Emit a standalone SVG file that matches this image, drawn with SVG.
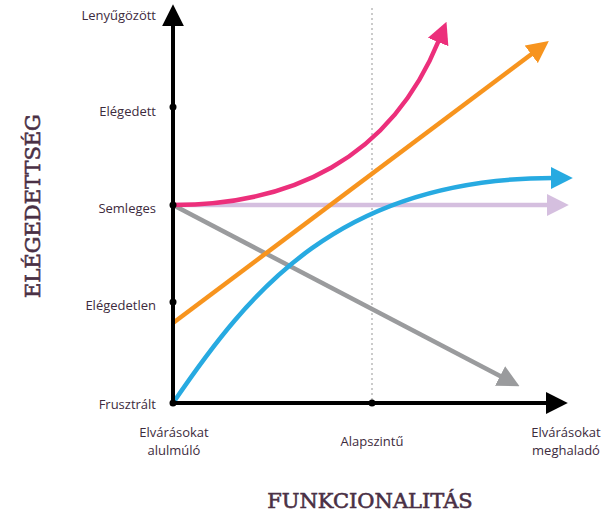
<svg xmlns="http://www.w3.org/2000/svg" width="605" height="515" viewBox="0 0 605 515">
<style>
.lbl{font-family:"Open Sans","Liberation Sans",sans-serif;font-size:13px;fill:#3d2b3d}
.ttl{font-family:"DejaVu Serif","Liberation Serif",serif;font-size:21px;fill:#4a3045;font-weight:normal;stroke:#4a3045;stroke-width:0.6}
.ax{stroke:#000;stroke-width:4;fill:none}
.cv{stroke-width:4.5;fill:none;stroke-linecap:butt}
</style>
<defs>
<marker id="mk" viewBox="0 0 10 10" refX="1" refY="5" markerWidth="22" markerHeight="22" markerUnits="userSpaceOnUse" orient="auto"><path d="M0,0 L10,5 L0,10 z" fill="#000"/></marker>
<marker id="mPink" viewBox="0 0 10 10" refX="1" refY="5" markerWidth="22" markerHeight="22" markerUnits="userSpaceOnUse" orient="auto"><path d="M0,0 L10,5 L0,10 z" fill="#ec2f7b"/></marker>
<marker id="mOr" viewBox="0 0 10 10" refX="1" refY="5" markerWidth="22" markerHeight="22" markerUnits="userSpaceOnUse" orient="auto"><path d="M0,0 L10,5 L0,10 z" fill="#f7941e"/></marker>
<marker id="mBl" viewBox="0 0 10 10" refX="1" refY="5" markerWidth="22" markerHeight="22" markerUnits="userSpaceOnUse" orient="auto"><path d="M0,0 L10,5 L0,10 z" fill="#27aae1"/></marker>
<marker id="mLv" viewBox="0 0 10 10" refX="1" refY="5" markerWidth="22" markerHeight="22" markerUnits="userSpaceOnUse" orient="auto"><path d="M0,0 L10,5 L0,10 z" fill="#d5bfdf"/></marker>
<marker id="mGr" viewBox="0 0 10 10" refX="1" refY="5" markerWidth="22" markerHeight="22" markerUnits="userSpaceOnUse" orient="auto"><path d="M0,0 L10,5 L0,10 z" fill="#9a9b9d"/></marker>
</defs>
<line x1="372" y1="8" x2="372" y2="403" stroke="#bbb" stroke-width="1.5" stroke-dasharray="2,3"/>
<g id="connectors">
<path class="cv" d="M173,205 L549,205" stroke="#d5bfdf" marker-end="url(#mLv)"/>
<path class="cv" d="M173,205 L502,377" stroke="#9a9b9d" marker-end="url(#mGr)"/>
<path class="cv" d="M173,323 L533,53" stroke="#f7941e" marker-end="url(#mOr)"/>
<path class="cv" d="M173,403 C250,290 340,178 553,178" stroke="#27aae1" marker-end="url(#mBl)"/>
<path class="cv" d="M173,205 C290,205 390,160 439,40" stroke="#ec2f7b" marker-end="url(#mPink)"/>
</g>
<g id="axes">
<path class="ax" d="M173,403 L173,24" marker-end="url(#mk)"/>
<path class="ax" d="M173,403 L548,403" marker-end="url(#mk)"/>
<circle cx="173" cy="107" r="3.5"/>
<circle cx="173" cy="205" r="3.5"/>
<circle cx="173" cy="302" r="3.5"/>
<circle cx="173" cy="403" r="3.5"/>
<circle cx="372" cy="403" r="3.5"/>
</g>
<g id="ylabels" class="lbl" text-anchor="end">
<text x="156" y="20">Lenyűgözött</text>
<text x="156" y="116">Elégedett</text>
<text x="156" y="213">Semleges</text>
<text x="156" y="310">Elégedetlen</text>
<text x="156" y="409">Frusztrált</text>
</g>
<g id="xlabels" class="lbl" text-anchor="middle">
<text x="174" y="437">Elvárásokat</text>
<text x="174" y="455">alulmúló</text>
<text x="372" y="446">Alapszintű</text>
<text x="566" y="437">Elvárásokat</text>
<text x="566" y="455">meghaladó</text>
</g>
<text class="ttl" x="370" y="508" text-anchor="middle">FUNKCIONALITÁS</text>
<text class="ttl" transform="translate(40,206) rotate(-90)" text-anchor="middle">ELÉGEDETTSÉG</text>
</svg>
